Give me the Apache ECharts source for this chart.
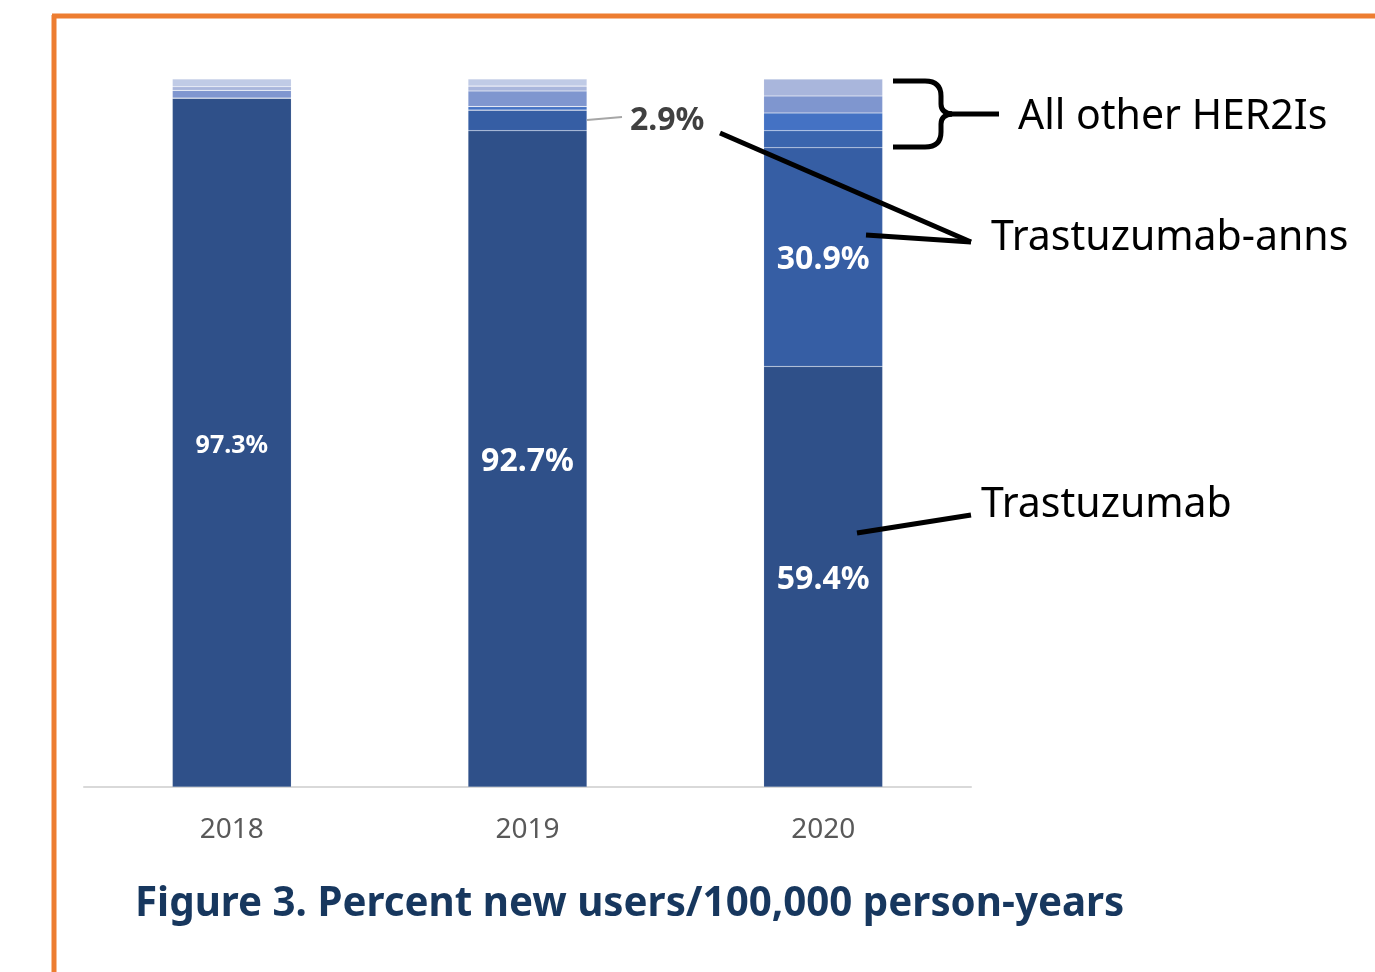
<!DOCTYPE html>
<html lang="en">
<head>
    <meta charset="UTF-8">
    <script src="https://cdn.jsdelivr.net/npm/echarts@6/dist/echarts.min.js"></script>
    <title>Figure 3</title>
    <style>
        html, body { margin: 0; padding: 0; background: #fff; }
        #chart { width: 1375px; height: 972px; }
    </style>
</head>
<body>
<div id="chart"></div>
<script type="text/javascript">
    // data (percent of new users)
    var years = ['2018', '2019', '2020'];
    var trastuzumab = [97.3, 92.7, 59.4];
    var trastuzumabAnns = [0, 2.9, 30.9];
    var other1 = [0, 0, 2.4];
    var other2 = [0, 0.5, 2.5];
    var other3 = [1.1, 2.2, 2.4];
    var other4 = [0.5, 0.7, 2.4];
    var other5 = [1.1, 1.0, 0];

    var fontMain = '"Noto Sans", "Open Sans", sans-serif';

    var myChart = echarts.init(document.getElementById('chart'));

    function seg(name, data, color) {
        return {
            name: name,
            type: 'bar',
            stack: 'all',
            barWidth: 119,
            itemStyle: { color: color, borderColor: 'rgba(255,255,255,0.2)', borderWidth: 0.6 },
            data: data
        };
    }

    var whiteLabel = function (size) {
        return {
            show: true, position: 'inside', color: '#fff', fontWeight: 'bold',
            fontFamily: fontMain, fontSize: size, formatter: '{c}%', offset: [0, 3]
        };
    };

    var trasSeries = seg('Trastuzumab', trastuzumab.map(function (v, i) {
        return { value: v, label: whiteLabel(i == 0 ? 25 : 32) };
    }), '#2f5089');

    var annsSeries = seg('Trastuzumab-anns', trastuzumabAnns.map(function (v, i) {
        if (i == 2) return { value: v, label: whiteLabel(32) };
        if (i == 1) return {
            value: v,
            label: {
                show: true, position: 'right', distance: 43, color: '#404040',
                fontWeight: 'bold', fontFamily: fontMain, fontSize: 32, formatter: '{c}%'
            }
        };
        return v;
    }), '#365ea4');

    var blk = { stroke: '#000', lineWidth: 5, fill: 'none' };
    function ln(x1, y1, x2, y2, style) {
        return { type: 'line', z: 100, shape: { x1: x1, y1: y1, x2: x2, y2: y2 }, style: style || blk };
    }
    function curve(x1, y1, cx, cy, x2, y2) {
        return { type: 'bezierCurve', z: 100, shape: { x1: x1, y1: y1, cpx1: cx, cpy1: cy, x2: x2, y2: y2 }, style: blk };
    }
    function note(txt, left, top) {
        return {
            type: 'text', z: 100, left: left, top: top,
            style: { text: txt, fill: '#000', fontSize: 41, fontFamily: fontMain }
        };
    }

    var option = {
        animation: false,
        grid: { left: 84, right: 404, top: 79, bottom: 185 },
        xAxis: {
            type: 'category',
            data: years,
            axisTick: { show: false },
            axisLine: { lineStyle: { color: '#d9d9d9', width: 2 } },
            axisLabel: { color: '#595959', fontSize: 28, fontFamily: fontMain, margin: 29 }
        },
        yAxis: {
            type: 'value', min: 0, max: 100, show: false,
            splitLine: { show: false }
        },
        series: [
            trasSeries,
            annsSeries,
            seg('Other 1', other1, '#3a65ae'),
            seg('Other 2', other2, '#4472c4'),
            seg('Other 3', other3, '#7f96cf'),
            seg('Other 4', other4, '#a9b6dc'),
            seg('Other 5', other5, '#c0cbe6')
        ],
        graphic: [
            // orange frame
            ln(54, 15, 54, 972, { stroke: '#ed7d31', lineWidth: 5 }),
            ln(52, 16, 1375, 16, { stroke: '#ed7d31', lineWidth: 5 }),
            // 2.9% leader
            ln(587, 120, 622, 117, { stroke: '#a6a6a6', lineWidth: 2 }),
            // bracket for other HER2Is
            ln(893, 81, 925, 81),
            curve(925, 81, 941, 81, 941, 96),
            ln(941, 96, 941, 104),
            curve(941, 104, 941, 113, 952, 114),
            curve(952, 114, 941, 115, 941, 124),
            ln(941, 124, 941, 132),
            curve(941, 132, 941, 147, 925, 147),
            ln(925, 147, 893, 147),
            ln(950, 114, 999, 114),
            // pointers
            ln(720, 133, 971, 242),
            ln(866, 235, 971, 242),
            ln(857, 533, 971, 515),
            note('All other HER2Is', 1018, 97),
            note('Trastuzumab-anns', 991, 218),
            note('Trastuzumab', 981, 485),
            {
                type: 'text', left: 135, top: 885,
                style: {
                    text: 'Figure 3. Percent new users/100,000 person-years', fill: '#17375e',
                    fontSize: 40.3, fontWeight: 'bold', fontFamily: fontMain
                }
            }
        ]
    };
    myChart.setOption(option);
</script>
</body>
</html>
